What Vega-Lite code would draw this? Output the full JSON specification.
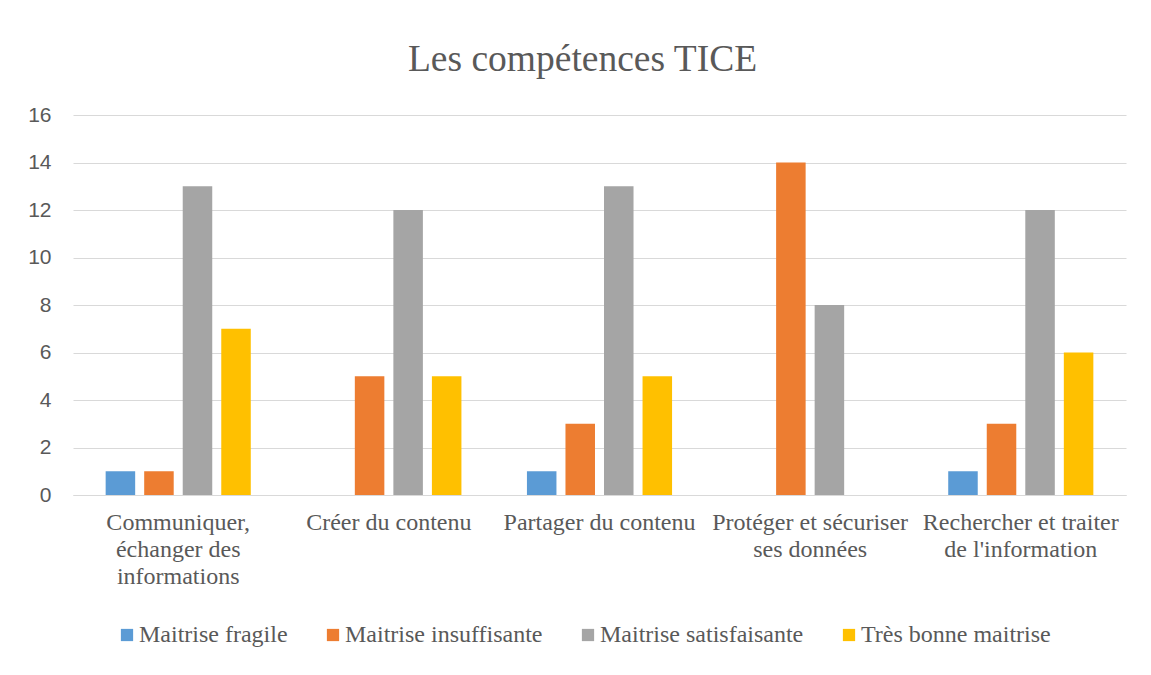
{
  "$schema": "https://vega.github.io/schema/vega-lite/v6.json",
  "autosize": "none",
  "width": 1053,
  "height": 380,
  "padding": {"left": 73, "top": 115, "right": 25, "bottom": 180},
  "background": "white",
  "title": {
    "text": "Les compétences TICE",
    "font": "Liberation Serif",
    "fontSize": 37.5,
    "fontWeight": "normal",
    "color": "#595959",
    "anchor": "middle",
    "offset": 26,
    "dx": -17
  },
  "data": {
    "values": [
      {"competence": "Communiquer, échanger des informations", "niveau": "Maitrise fragile", "n": 1},
      {"competence": "Communiquer, échanger des informations", "niveau": "Maitrise insuffisante", "n": 1},
      {"competence": "Communiquer, échanger des informations", "niveau": "Maitrise satisfaisante", "n": 13},
      {"competence": "Communiquer, échanger des informations", "niveau": "Très bonne maitrise", "n": 7},
      {"competence": "Créer du contenu", "niveau": "Maitrise fragile", "n": 0},
      {"competence": "Créer du contenu", "niveau": "Maitrise insuffisante", "n": 5},
      {"competence": "Créer du contenu", "niveau": "Maitrise satisfaisante", "n": 12},
      {"competence": "Créer du contenu", "niveau": "Très bonne maitrise", "n": 5},
      {"competence": "Partager du contenu", "niveau": "Maitrise fragile", "n": 1},
      {"competence": "Partager du contenu", "niveau": "Maitrise insuffisante", "n": 3},
      {"competence": "Partager du contenu", "niveau": "Maitrise satisfaisante", "n": 13},
      {"competence": "Partager du contenu", "niveau": "Très bonne maitrise", "n": 5},
      {"competence": "Protéger et sécuriser ses données", "niveau": "Maitrise fragile", "n": 0},
      {"competence": "Protéger et sécuriser ses données", "niveau": "Maitrise insuffisante", "n": 14},
      {"competence": "Protéger et sécuriser ses données", "niveau": "Maitrise satisfaisante", "n": 8},
      {"competence": "Protéger et sécuriser ses données", "niveau": "Très bonne maitrise", "n": 0},
      {"competence": "Rechercher et traiter de l'information", "niveau": "Maitrise fragile", "n": 1},
      {"competence": "Rechercher et traiter de l'information", "niveau": "Maitrise insuffisante", "n": 3},
      {"competence": "Rechercher et traiter de l'information", "niveau": "Maitrise satisfaisante", "n": 12},
      {"competence": "Rechercher et traiter de l'information", "niveau": "Très bonne maitrise", "n": 6}
    ]
  },
  "mark": {"type": "bar"},
  "encoding": {
    "x": {
      "field": "competence",
      "type": "nominal",
      "sort": null,
      "scale": {"paddingInner": 0.311, "paddingOuter": 0.155},
      "axis": {
        "title": null,
        "labelAngle": 0,
        "labelFont": "Liberation Serif",
        "labelFontSize": 24,
        "labelColor": "#595959",
        "labelPadding": 15,
        "labelLineHeight": 27,
        "labelLimit": 400,
        "ticks": false,
        "domainColor": "#d9d9d9",
        "domainWidth": 1,
        "labelExpr": "datum.label == 'Communiquer, échanger des informations' ? ['Communiquer,', 'échanger des', 'informations'] : datum.label == 'Protéger et sécuriser ses données' ? ['Protéger et sécuriser', 'ses données'] : datum.label == \"Rechercher et traiter de l'information\" ? ['Rechercher et traiter', \"de l'information\"] : datum.label"
      }
    },
    "xOffset": {
      "field": "niveau",
      "type": "nominal",
      "scale": {"paddingInner": 0.234, "paddingOuter": 0}
    },
    "y": {
      "field": "n",
      "type": "quantitative",
      "scale": {"domain": [0, 16]},
      "axis": {
        "title": null,
        "values": [0, 2, 4, 6, 8, 10, 12, 14, 16],
        "labelFont": "Liberation Sans",
        "labelFontSize": 21,
        "labelColor": "#595959",
        "labelPadding": 22,
        "ticks": false,
        "domain": false,
        "gridColor": "#d9d9d9",
        "gridWidth": 1
      }
    },
    "color": {
      "field": "niveau",
      "type": "nominal",
      "scale": {
        "domain": ["Maitrise fragile", "Maitrise insuffisante", "Maitrise satisfaisante", "Très bonne maitrise"],
        "range": ["#5B9BD5", "#ED7D31", "#A5A5A5", "#FFC000"]
      },
      "legend": {
        "title": null,
        "orient": "none",
        "legendX": 42,
        "legendY": 508,
        "direction": "horizontal",
        "columns": 4,
        "columnPadding": 33,
        "padding": 0,
        "symbolType": "square",
        "symbolSize": 150,
        "symbolStrokeWidth": 0,
        "labelFont": "Liberation Serif",
        "labelFontSize": 24,
        "labelColor": "#595959",
        "labelOffset": 0,
        "labelLimit": 400
      }
    }
  },
  "config": {
    "view": {"stroke": null}
  }
}
